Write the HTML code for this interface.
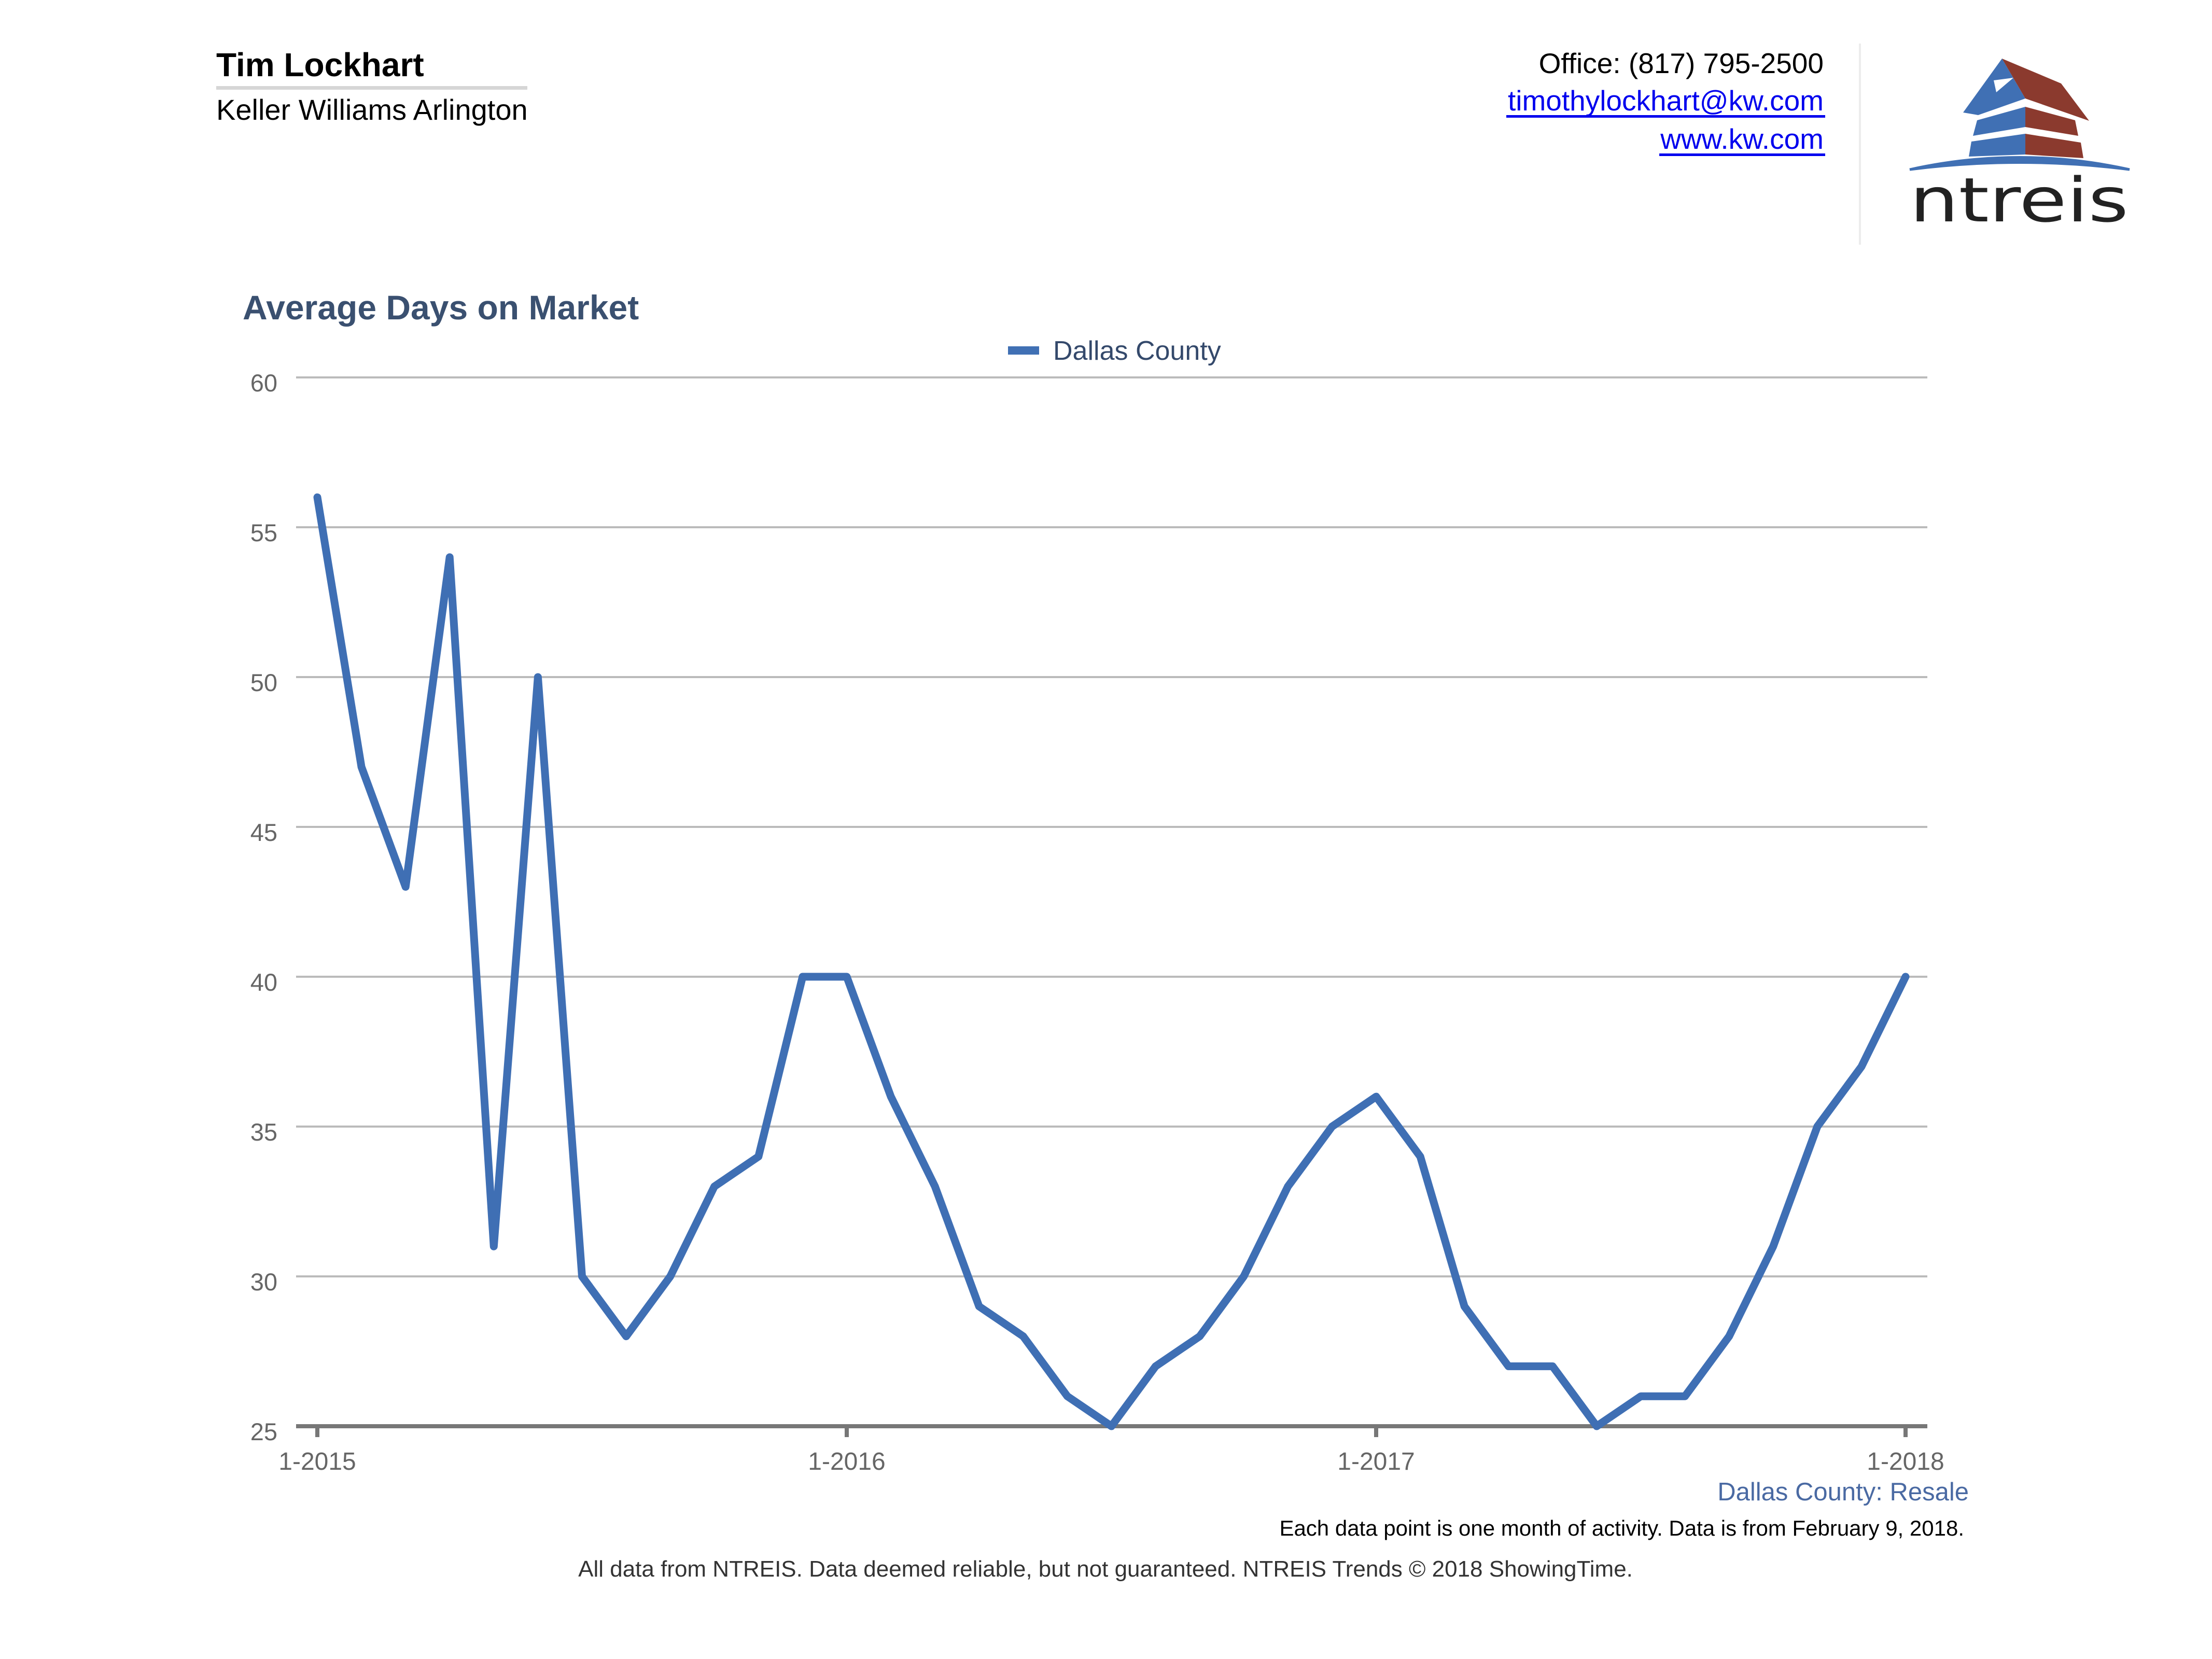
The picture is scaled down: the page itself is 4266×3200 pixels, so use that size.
<!DOCTYPE html>
<html><head><meta charset="utf-8"><style>html,body{margin:0;padding:0;background:#fff}svg{display:block}</style></head>
<body>
<svg xmlns="http://www.w3.org/2000/svg" width="4266" height="3200" viewBox="0 0 4266 3200" font-family="Liberation Sans, Arial, sans-serif">
<rect width="4266" height="3200" fill="#fff"/>
<!-- header left -->
<text x="417" y="147" font-size="64" font-weight="bold" fill="#000">Tim Lockhart</text>
<rect x="417" y="166" width="600" height="7" fill="#d6d6d6"/>
<text x="417" y="231" font-size="56" fill="#000">Keller Williams Arlington</text>
<!-- header right -->
<text x="3517" y="141" font-size="55" fill="#000" text-anchor="end">Office: (817) 795-2500</text>
<text x="3517" y="213" font-size="55" fill="#0000ee" text-anchor="end">timothylockhart@kw.com</text>
<rect x="2905" y="222" width="615" height="5" fill="#0000ee"/>
<text x="3517" y="287" font-size="55" fill="#0000ee" text-anchor="end">www.kw.com</text>
<rect x="3200" y="296" width="320" height="5" fill="#0000ee"/>
<rect x="3585" y="84" width="4" height="388" fill="#ececec"/>
<!-- logo -->
<polygon points="3861,113 3906,190 3815,222 3786,217" fill="#4070b4"/>
<polygon points="3861,113 3975,161 4029,233 3906,190" fill="#8b3a2e"/>
<polygon points="3813,232 3906,206 3906,245 3805,262" fill="#4070b4"/>
<polygon points="3906,206 4002,232 4008,262 3906,245" fill="#8b3a2e"/>
<polygon points="3802,273 3906,258 3906,298 3797,302" fill="#4070b4"/>
<polygon points="3906,258 4013,275 4018,305 3906,298" fill="#8b3a2e"/>
<path d="M3845,155 L3883,150 L3850,178 Z" fill="#fff"/>
<path d="M3683,327 Q3895,280 4107,327 Q3895,300 3683,327 Z" fill="#4070b4" stroke="#4070b4" stroke-width="5"/>
<text x="3683" y="427" font-size="118" fill="#222" textLength="422" lengthAdjust="spacingAndGlyphs" font-family="DejaVu Sans, sans-serif">ntreis</text>
<!-- title -->
<text x="468" y="616" font-size="66" font-weight="bold" fill="#3a5070">Average Days on Market</text>
<!-- legend -->
<rect x="1944" y="668" width="60" height="16" fill="#4070b4"/>
<text x="2031" y="694" font-size="52" fill="#34496b">Dallas County</text>
<!-- grid -->
<g fill="#bbbbbb">
<rect x="571" y="726" width="3146" height="4"/>
<rect x="571" y="1015" width="3146" height="4"/>
<rect x="571" y="1304" width="3146" height="4"/>
<rect x="571" y="1593" width="3146" height="4"/>
<rect x="571" y="1882" width="3146" height="4"/>
<rect x="571" y="2171" width="3146" height="4"/>
<rect x="571" y="2460" width="3146" height="4"/>
</g>
<g font-size="47" fill="#666" text-anchor="end">
<text x="535" y="755">60</text>
<text x="535" y="1044">55</text>
<text x="535" y="1333">50</text>
<text x="535" y="1622">45</text>
<text x="535" y="1911">40</text>
<text x="535" y="2200">35</text>
<text x="535" y="2489">30</text>
<text x="535" y="2778">25</text>
</g>
<rect x="571" y="2747" width="3146" height="8" fill="#777"/>
<g fill="#777">
<rect x="608" y="2751" width="8" height="21"/>
<rect x="1629" y="2751" width="8" height="21"/>
<rect x="2650" y="2751" width="8" height="21"/>
<rect x="3671" y="2751" width="8" height="21"/>
</g>
<g font-size="48" fill="#666" text-anchor="middle">
<text x="612" y="2835">1-2015</text>
<text x="1633" y="2835">1-2016</text>
<text x="2654" y="2835">1-2017</text>
<text x="3675" y="2835">1-2018</text>
</g>
<polyline fill="none" stroke="#3f6fb4" stroke-width="15" stroke-linejoin="round" stroke-linecap="round" points="612,959.2 697.1,1479.4 782.2,1710.6 867.2,1074.8 952.3,2404.2 1037.4,1306 1122.5,2462 1207.6,2577.6 1292.7,2462 1377.7,2288.6 1462.8,2230.8 1547.9,1884 1633,1884 1718.1,2115.2 1803.2,2288.6 1888.2,2519.8 1973.3,2577.6 2058.4,2693.2 2143.5,2751 2228.6,2635.4 2313.7,2577.6 2398.7,2462 2483.8,2288.6 2568.9,2173 2654,2115.2 2739.1,2230.8 2824.2,2519.8 2909.2,2635.4 2994.3,2635.4 3079.4,2751 3164.5,2693.2 3249.6,2693.2 3334.7,2577.6 3419.7,2404.2 3504.8,2173 3589.9,2057.4 3675,1884"/>
<!-- footer -->
<text x="3797" y="2894" font-size="49" fill="#4a6aa3" text-anchor="end">Dallas County: Resale</text>
<text x="3788" y="2962" font-size="42" fill="#000" text-anchor="end">Each data point is one month of activity. Data is from February 9, 2018.</text>
<text x="2132" y="3041" font-size="44" fill="#333" text-anchor="middle">All data from NTREIS. Data deemed reliable, but not guaranteed. NTREIS Trends © 2018 ShowingTime.</text>
</svg>
</body></html>
